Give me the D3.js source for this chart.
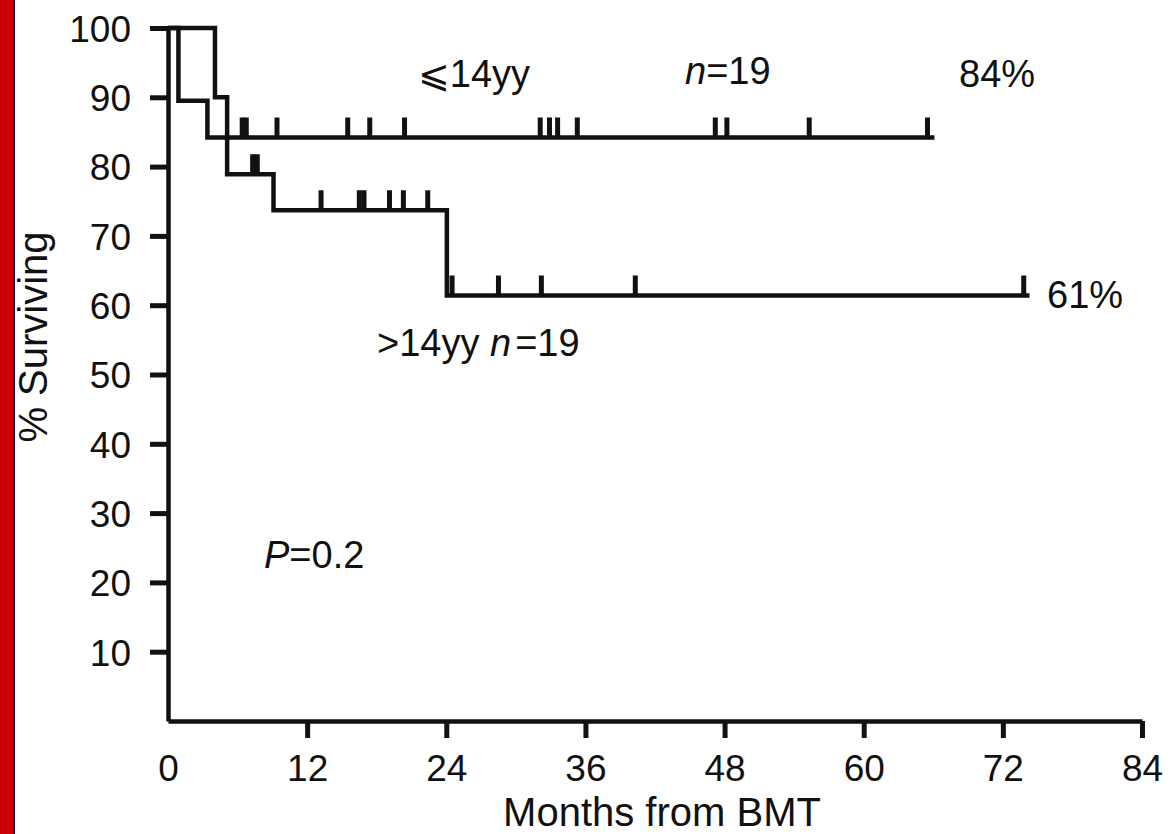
<!DOCTYPE html>
<html>
<head>
<meta charset="utf-8">
<script src="https://cdn.jsdelivr.net/npm/d3@7"></script>
<style>
  html, body { margin: 0; padding: 0; background: #fff; }
  svg text { font-family: "Liberation Sans", Arial, "DejaVu Sans", sans-serif; fill: #111; }
</style>
</head>
<body>
<svg width="1173" height="834"></svg>
<script>
// ** DATA ** //
const xTicks = [0, 12, 24, 36, 48, 60, 72, 84];
const yTicks = [10, 20, 30, 40, 50, 60, 70, 80, 90, 100];

// <=14 yrs: step times (months) and % surviving
const youngTimes = [0, 4.05, 5.1, 66.1];
const youngSurv = [100, 90, 84.2, 84.2];
const youngCensored = [6.4, 6.75, 9.4, 15.5, 17.4, 20.4, 32.1, 32.9, 33.6, 35.3, 47.2, 48.2, 55.3, 65.5];

// >14 yrs
const oldTimes = [0, 0.9, 3.4, 5.1, 9.1, 24.05, 74.3];
const oldSurv = [100, 89.5, 84.2, 78.9, 73.7, 61.4, 61.4];
const oldCensored = [7.3, 7.7, 13.2, 16.5, 16.9, 19.1, 20.3, 22.4, 24.5, 28.5, 32.2, 40.3, 73.8];

const onReady = () => {
  const svg = d3.select("svg");

  // left decorative border of the slide
  svg.append("rect").attr("x", 0).attr("y", 0).attr("width", 13).attr("height", 834).attr("fill", "#cc0000");
  svg.append("rect").attr("x", 13).attr("y", 0).attr("width", 2).attr("height", 834).attr("fill", "#000066");

  const x = d3.scaleLinear().domain([0, 84]).range([168, 1142]);
  const y = d3.scaleLinear().domain([0, 100]).range([721, 28]);

  // ** AXES ** //
  const yAxis = svg
    .append("g")
    .attr("transform", `translate(${x(0)},0)`)
    .call(d3.axisLeft(y).tickValues(yTicks).tickSize(18).tickSizeOuter(0).tickPadding(19));

  const xAxis = svg
    .append("g")
    .attr("transform", `translate(0,${y(0)})`)
    .call(d3.axisBottom(x).tickValues(xTicks).tickSize(17).tickSizeOuter(0).tickPadding(17));

  [yAxis, xAxis].forEach(ax => {
    ax.select(".domain").attr("stroke", "#111").attr("stroke-width", 4.5);
    ax.selectAll(".tick line").attr("stroke", "#111").attr("stroke-width", 5);
    ax.selectAll(".tick text").attr("font-size", 37).attr("fill", "#111")
      .style("font-family", '"Liberation Sans", Arial, sans-serif');
  });
  xAxis.selectAll(".tick").filter(d => d === 0).select("line").remove();
  yAxis.selectAll(".tick text").attr("dy", "0.36em");
  xAxis.selectAll(".tick text").attr("dy", "0.71em");

  // axis titles
  svg.append("text")
    .attr("x", 662).attr("y", 826)
    .attr("text-anchor", "middle")
    .attr("font-size", 40)
    .text("Months from BMT");

  svg.append("text")
    .attr("transform", "translate(47,337) rotate(-90)")
    .attr("text-anchor", "middle")
    .attr("font-size", 40)
    .text("% Surviving");

  // ** CURVES ** //
  const line = d3.line()
    .x(d => x(d[0]))
    .y(d => y(d[1]))
    .curve(d3.curveStepAfter);

  const survAt = (times, surv, t) => {
    const i = d3.bisectRight(times, t) - 1;
    return surv[Math.max(0, i)];
  };

  const groups = [
    { times: youngTimes, surv: youngSurv, cens: youngCensored },
    { times: oldTimes, surv: oldSurv, cens: oldCensored }
  ];

  groups.forEach(g => {
    svg.append("path")
      .datum(d3.zip(g.times, g.surv))
      .attr("d", line)
      .attr("fill", "none")
      .attr("stroke", "#111")
      .attr("stroke-width", 4.5);

    svg.append("g")
      .selectAll("line")
      .data(g.cens)
      .enter()
      .append("line")
      .attr("x1", d => x(d))
      .attr("x2", d => x(d))
      .attr("y1", d => y(survAt(g.times, g.surv, d)))
      .attr("y2", d => y(survAt(g.times, g.surv, d)) - 20)
      .attr("stroke", "#111")
      .attr("stroke-width", 5);
  });

  // ** ANNOTATIONS ** //
  const fs = 38;
  svg.append("text").attr("x", 418).attr("y", 87).attr("font-size", fs).text("\u2A7D14yy");

  const n1 = svg.append("text").attr("x", 685).attr("y", 84).attr("font-size", fs);
  n1.append("tspan").attr("font-style", "italic").text("n");
  n1.append("tspan").text("=19");

  svg.append("text").attr("x", 959).attr("y", 87).attr("font-size", fs).text("84%");
  svg.append("text").attr("x", 1047).attr("y", 308).attr("font-size", fs).text("61%");

  const n2 = svg.append("text").attr("x", 377).attr("y", 356).attr("font-size", fs);
  n2.append("tspan").text(">14yy ");
  n2.append("tspan").attr("font-style", "italic").text("n");
  n2.append("tspan").attr("dx", 4).text("=19");

  const p = svg.append("text").attr("x", 264).attr("y", 568).attr("font-size", fs);
  p.append("tspan").attr("font-style", "italic").text("P");
  p.append("tspan").text("=0.2");
};
document.addEventListener("DOMContentLoaded", onReady);
</script>
</body>
</html>
